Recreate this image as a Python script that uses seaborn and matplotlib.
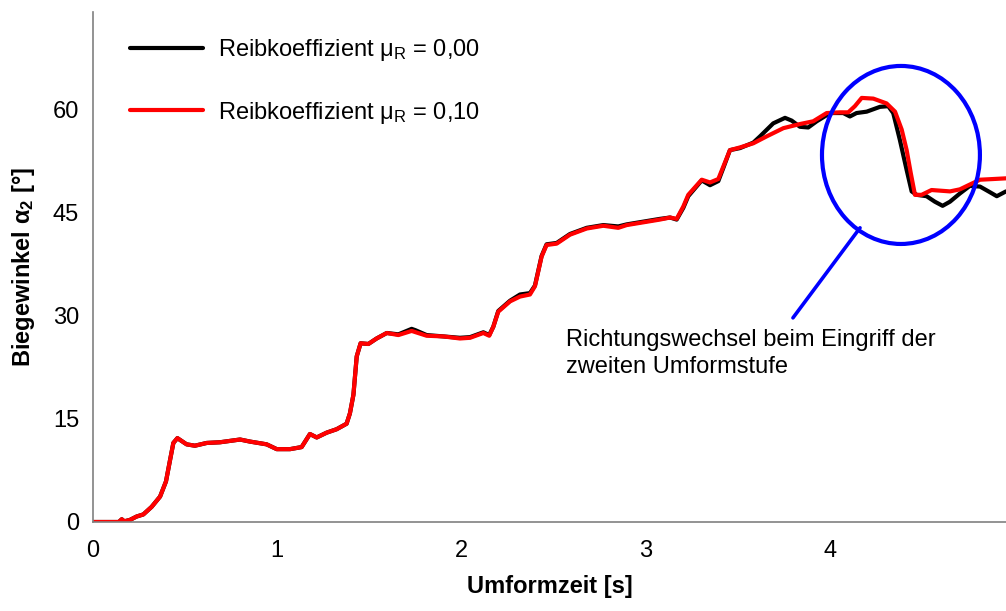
import numpy as np
import pandas as pd
import matplotlib
matplotlib.use("Agg")
import matplotlib.pyplot as plt
from matplotlib.patches import Ellipse
import seaborn as sns

# Bending angle over forming time, friction coefficient 0.00
time_mu000 = [0.0, 0.14, 0.156, 0.17, 0.2, 0.237, 0.273, 0.318, 0.364, 0.396, 0.418, 0.436,
              0.458, 0.508, 0.553, 0.617, 0.689, 0.798, 0.852, 0.942, 0.997, 1.069, 1.132,
              1.177, 1.214, 1.268, 1.322, 1.376, 1.394, 1.413, 1.431, 1.452, 1.494, 1.539,
              1.594, 1.657, 1.729, 1.75, 1.81, 1.901, 1.991, 2.046, 2.118, 2.15, 2.172, 2.199,
              2.263, 2.317, 2.371, 2.398, 2.434, 2.461, 2.516, 2.588, 2.679, 2.769, 2.85,
              2.896, 2.986, 3.076, 3.131, 3.167, 3.203, 3.23, 3.303, 3.348, 3.393, 3.42,
              3.456, 3.511, 3.583, 3.619, 3.691, 3.755, 3.791, 3.836, 3.881, 3.927, 4.0,
              4.071, 4.107, 4.143, 4.198, 4.27, 4.315, 4.342, 4.378, 4.415, 4.442, 4.469,
              4.523, 4.568, 4.61, 4.65, 4.704, 4.758, 4.813, 4.859, 4.904, 4.954]
angle_mu000 = [0.0, 0.0, 0.4, 0.1, 0.3, 0.8, 1.1, 2.2, 3.7, 5.9, 9.0, 11.5,
               12.2, 11.3, 11.1, 11.5, 11.6, 12.0, 11.7, 11.3, 10.6, 10.6, 10.9,
               12.8, 12.3, 13.0, 13.5, 14.3, 15.8, 18.5, 24.1, 26.0, 25.9, 26.7,
               27.5, 27.3, 28.1, 27.9, 27.2, 27.0, 26.8, 26.9, 27.6, 27.2, 28.4, 30.7,
               32.2, 33.1, 33.3, 34.4, 38.7, 40.4, 40.6, 41.9, 42.8, 43.2, 43.0,
               43.3, 43.7, 44.1, 44.3, 44.0, 45.7, 47.4, 49.7, 49.0, 49.6, 51.5,
               54.1, 54.4, 55.2, 56.1, 58.0, 58.8, 58.4, 57.5, 57.4, 58.3, 59.5,
               59.5, 59.0, 59.5, 59.7, 60.4, 60.5, 59.5, 55.6, 51.2, 48.1, 47.6,
               47.4, 46.6, 46.0, 46.6, 47.8, 48.9, 48.8, 48.1, 47.4, 48.1]

# Bending angle over forming time, friction coefficient 0.10
time_mu010 = [0.0, 0.14, 0.156, 0.17, 0.2, 0.237, 0.273, 0.318, 0.364, 0.396, 0.418, 0.436,
              0.458, 0.508, 0.553, 0.617, 0.689, 0.798, 0.852, 0.942, 0.997, 1.069, 1.132,
              1.177, 1.214, 1.268, 1.322, 1.376, 1.394, 1.413, 1.431, 1.452, 1.494, 1.539,
              1.594, 1.657, 1.729, 1.81, 1.901, 1.991, 2.046, 2.118, 2.15, 2.172, 2.199,
              2.263, 2.317, 2.371, 2.398, 2.434, 2.461, 2.516, 2.588, 2.679, 2.769, 2.85,
              2.896, 2.986, 3.076, 3.131, 3.167, 3.203, 3.23, 3.303, 3.348, 3.393, 3.42,
              3.456, 3.511, 3.583, 3.655, 3.746, 3.836, 3.908, 3.981, 4.053, 4.098, 4.134,
              4.171, 4.234, 4.306, 4.352, 4.388, 4.415, 4.437, 4.46, 4.496, 4.55, 4.65,
              4.704, 4.758, 4.813, 4.885, 4.954]
angle_mu010 = [0.0, 0.0, 0.4, 0.1, 0.3, 0.8, 1.1, 2.2, 3.7, 5.9, 9.0, 11.5,
               12.2, 11.3, 11.1, 11.5, 11.6, 12.0, 11.7, 11.3, 10.6, 10.6, 10.9,
               12.8, 12.3, 13.0, 13.5, 14.3, 15.8, 18.5, 24.1, 26.0, 25.9, 26.7,
               27.5, 27.2, 27.8, 27.1, 27.0, 26.7, 26.8, 27.5, 27.1, 28.4, 30.6,
               32.1, 32.8, 33.1, 34.3, 38.6, 40.3, 40.5, 41.8, 42.7, 43.1, 42.8,
               43.2, 43.6, 44.0, 44.3, 44.1, 45.9, 47.6, 49.8, 49.4, 49.9, 51.7,
               54.1, 54.5, 55.1, 56.1, 57.3, 57.9, 58.3, 59.5, 59.6, 59.6, 60.5,
               61.7, 61.6, 60.9, 59.7, 57.1, 54.1, 50.8, 47.6, 47.6, 48.3, 48.1,
               48.4, 49.1, 49.8, 49.9, 50.0]

series_labels = [r"Reibkoeffizient μ$_\mathregular{R}$ = 0,00",
                 r"Reibkoeffizient μ$_\mathregular{R}$ = 0,10"]
series_colors = ["#000000", "#ff0000"]

x_ticks = [0, 1, 2, 3, 4]
y_ticks = [0, 15, 30, 45, 60]

note_text = "Richtungswechsel beim Eingriff der\nzweiten Umformstufe"

df = pd.concat([
    pd.DataFrame({"t": time_mu000, "alpha": angle_mu000, "serie": series_labels[0]}),
    pd.DataFrame({"t": time_mu010, "alpha": angle_mu010, "serie": series_labels[1]}),
], ignore_index=True)

sns.set_theme(style="white")
plt.rcParams["font.family"] = ["Liberation Sans", "DejaVu Sans"]
plt.rcParams["mathtext.fontset"] = "custom"
plt.rcParams["mathtext.rm"] = "Liberation Sans"
plt.rcParams["mathtext.it"] = "Liberation Sans:italic"
plt.rcParams["mathtext.bf"] = "Liberation Sans:bold"
plt.rcParams["text.color"] = "black"
plt.rcParams["axes.labelcolor"] = "black"

FS = 17

fig = plt.figure(figsize=(10.06, 6.11), dpi=100)
ax = fig.add_axes([93 / 1006, 89 / 611, 913 / 1006, 510 / 611])

sns.lineplot(data=df, x="t", y="alpha", hue="serie", palette=series_colors,
             estimator=None, sort=False, linewidth=3.0, ax=ax)

ax.set_xlim(0, 4.954)
ax.set_ylim(0, 74.2)
ax.set_xticks(x_ticks)
ax.set_yticks(y_ticks)
ax.set_xticklabels([str(v) for v in x_ticks])
ax.set_yticklabels([str(v) for v in y_ticks])

for side in ("top", "right"):
    ax.spines[side].set_visible(False)
for side in ("left", "bottom"):
    ax.spines[side].set_color("#808080")
    ax.spines[side].set_linewidth(1.2)
ax.tick_params(axis="both", direction="out", length=5, width=1.0, color="#808080",
               labelsize=FS, labelcolor="black", pad=5)
ax.tick_params(axis="x", pad=8)

ax.set_xlabel("Umformzeit [s]", fontsize=FS, fontweight="bold", labelpad=9, color="black")
ax.set_ylabel(r"Biegewinkel α$_\mathbf{2}$ [°]", fontsize=FS, fontweight="bold",
              labelpad=11, color="black")

leg = ax.legend(loc="upper left", bbox_to_anchor=(0.0405, 0.951), frameon=False,
                fontsize=FS, handlelength=3.1, handletextpad=0.64, labelspacing=1.55,
                borderpad=0, borderaxespad=0, title=None)
for line in leg.get_lines():
    line.set_linewidth(3.0)
for txt in leg.get_texts():
    txt.set_color("black")

# Highlight of the direction change
ax.add_patch(Ellipse((4.384, 53.4), 0.857, 25.9, fill=False, edgecolor="#0000ff",
                     linewidth=3.0, zorder=5))
ax.plot([4.162, 3.798], [42.8, 29.7], color="#0000ff", linewidth=2.6, zorder=5)
ax.text(2.566, 24.5, note_text, fontsize=FS, ha="left", va="center", linespacing=1.3,
        color="black")

fig.savefig("out.png", dpi=100)
